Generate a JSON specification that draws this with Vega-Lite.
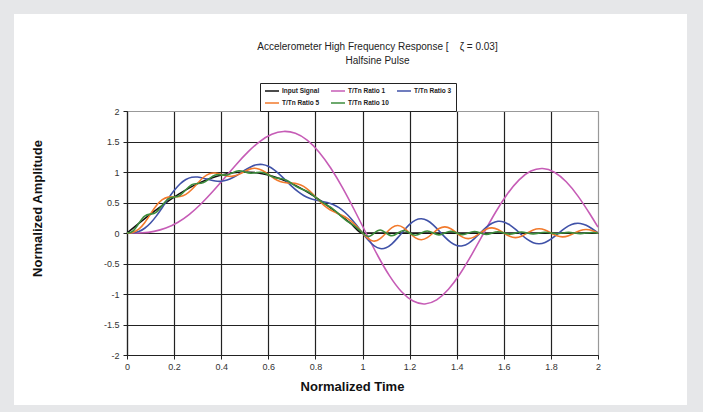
{
  "$schema": "https://vega.github.io/schema/vega-lite/v6.json",
  "width": 471,
  "height": 244,
  "autosize": {"type": "none"},
  "padding": {"left": 127, "top": 111, "right": 105, "bottom": 57},
  "background": "#ffffff",
  "config": {
    "font": "Liberation Sans",
    "view": {"stroke": "#999999", "strokeWidth": 1}
  },
  "title": {
    "text": ["Accelerometer High Frequency Response [\u00a0\u00a0\u00a0\u00a0ζ = 0.03]", "Halfsine Pulse"],
    "fontSize": 10,
    "fontWeight": "normal",
    "font": "Liberation Sans",
    "color": "#222222",
    "lineHeight": 14,
    "anchor": "middle",
    "dx": 15,
    "offset": -82
  },
  "data": {
    "values": [
      {"t":0,"v":0,"s":"Input Signal"},{"t":0.05,"v":0.156,"s":"Input Signal"},{"t":0.1,"v":0.309,"s":"Input Signal"},{"t":0.15,"v":0.454,"s":"Input Signal"},{"t":0.2,"v":0.588,"s":"Input Signal"},{"t":0.25,"v":0.707,"s":"Input Signal"},{"t":0.3,"v":0.809,"s":"Input Signal"},{"t":0.35,"v":0.891,"s":"Input Signal"},{"t":0.4,"v":0.951,"s":"Input Signal"},{"t":0.45,"v":0.988,"s":"Input Signal"},{"t":0.5,"v":1,"s":"Input Signal"},{"t":0.55,"v":0.988,"s":"Input Signal"},{"t":0.6,"v":0.951,"s":"Input Signal"},{"t":0.65,"v":0.891,"s":"Input Signal"},{"t":0.7,"v":0.809,"s":"Input Signal"},{"t":0.75,"v":0.707,"s":"Input Signal"},{"t":0.8,"v":0.588,"s":"Input Signal"},{"t":0.85,"v":0.454,"s":"Input Signal"},{"t":0.9,"v":0.309,"s":"Input Signal"},{"t":0.95,"v":0.156,"s":"Input Signal"},{"t":1,"v":0,"s":"Input Signal"},{"t":1.5,"v":0,"s":"Input Signal"},{"t":2,"v":0,"s":"Input Signal"},

      {"t":0,"v":0,"s":"T/Tn Ratio 1"},{"t":0.015,"v":0,"s":"T/Tn Ratio 1"},{"t":0.065,"v":0.004,"s":"T/Tn Ratio 1"},{"t":0.115,"v":0.027,"s":"T/Tn Ratio 1"},{"t":0.165,"v":0.081,"s":"T/Tn Ratio 1"},{"t":0.215,"v":0.173,"s":"T/Tn Ratio 1"},{"t":0.265,"v":0.307,"s":"T/Tn Ratio 1"},{"t":0.315,"v":0.48,"s":"T/Tn Ratio 1"},{"t":0.365,"v":0.683,"s":"T/Tn Ratio 1"},{"t":0.415,"v":0.905,"s":"T/Tn Ratio 1"},{"t":0.465,"v":1.128,"s":"T/Tn Ratio 1"},{"t":0.515,"v":1.333,"s":"T/Tn Ratio 1"},{"t":0.565,"v":1.503,"s":"T/Tn Ratio 1"},{"t":0.615,"v":1.618,"s":"T/Tn Ratio 1"},{"t":0.665,"v":1.665,"s":"T/Tn Ratio 1"},{"t":0.715,"v":1.634,"s":"T/Tn Ratio 1"},{"t":0.765,"v":1.522,"s":"T/Tn Ratio 1"},{"t":0.815,"v":1.329,"s":"T/Tn Ratio 1"},{"t":0.865,"v":1.065,"s":"T/Tn Ratio 1"},{"t":0.915,"v":0.743,"s":"T/Tn Ratio 1"},{"t":0.965,"v":0.381,"s":"T/Tn Ratio 1"},{"t":1.015,"v":0,"s":"T/Tn Ratio 1"},{"t":1.065,"v":-0.373,"s":"T/Tn Ratio 1"},{"t":1.115,"v":-0.703,"s":"T/Tn Ratio 1"},{"t":1.165,"v":-0.959,"s":"T/Tn Ratio 1"},{"t":1.215,"v":-1.116,"s":"T/Tn Ratio 1"},{"t":1.265,"v":-1.163,"s":"T/Tn Ratio 1"},{"t":1.315,"v":-1.096,"s":"T/Tn Ratio 1"},{"t":1.365,"v":-0.923,"s":"T/Tn Ratio 1"},{"t":1.415,"v":-0.664,"s":"T/Tn Ratio 1"},{"t":1.465,"v":-0.346,"s":"T/Tn Ratio 1"},{"t":1.515,"v":0,"s":"T/Tn Ratio 1"},{"t":1.565,"v":0.34,"s":"T/Tn Ratio 1"},{"t":1.615,"v":0.64,"s":"T/Tn Ratio 1"},{"t":1.665,"v":0.872,"s":"T/Tn Ratio 1"},{"t":1.715,"v":1.016,"s":"T/Tn Ratio 1"},{"t":1.765,"v":1.058,"s":"T/Tn Ratio 1"},{"t":1.815,"v":0.997,"s":"T/Tn Ratio 1"},{"t":1.865,"v":0.84,"s":"T/Tn Ratio 1"},{"t":1.915,"v":0.605,"s":"T/Tn Ratio 1"},{"t":1.965,"v":0.315,"s":"T/Tn Ratio 1"},{"t":2,"v":0.095,"s":"T/Tn Ratio 1"},

      {"t":0,"v":0,"s":"T/Tn Ratio 3"},{"t":0.025,"v":0.004,"s":"T/Tn Ratio 3"},{"t":0.05,"v":0.026,"s":"T/Tn Ratio 3"},{"t":0.075,"v":0.078,"s":"T/Tn Ratio 3"},{"t":0.1,"v":0.164,"s":"T/Tn Ratio 3"},{"t":0.125,"v":0.281,"s":"T/Tn Ratio 3"},{"t":0.15,"v":0.418,"s":"T/Tn Ratio 3"},{"t":0.175,"v":0.562,"s":"T/Tn Ratio 3"},{"t":0.2,"v":0.695,"s":"T/Tn Ratio 3"},{"t":0.225,"v":0.803,"s":"T/Tn Ratio 3"},{"t":0.25,"v":0.876,"s":"T/Tn Ratio 3"},{"t":0.275,"v":0.913,"s":"T/Tn Ratio 3"},{"t":0.3,"v":0.917,"s":"T/Tn Ratio 3"},{"t":0.325,"v":0.899,"s":"T/Tn Ratio 3"},{"t":0.35,"v":0.873,"s":"T/Tn Ratio 3"},{"t":0.375,"v":0.852,"s":"T/Tn Ratio 3"},{"t":0.4,"v":0.848,"s":"T/Tn Ratio 3"},{"t":0.425,"v":0.867,"s":"T/Tn Ratio 3"},{"t":0.45,"v":0.909,"s":"T/Tn Ratio 3"},{"t":0.475,"v":0.966,"s":"T/Tn Ratio 3"},{"t":0.5,"v":1.029,"s":"T/Tn Ratio 3"},{"t":0.525,"v":1.083,"s":"T/Tn Ratio 3"},{"t":0.55,"v":1.118,"s":"T/Tn Ratio 3"},{"t":0.575,"v":1.123,"s":"T/Tn Ratio 3"},{"t":0.6,"v":1.094,"s":"T/Tn Ratio 3"},{"t":0.625,"v":1.035,"s":"T/Tn Ratio 3"},{"t":0.65,"v":0.953,"s":"T/Tn Ratio 3"},{"t":0.675,"v":0.859,"s":"T/Tn Ratio 3"},{"t":0.7,"v":0.764,"s":"T/Tn Ratio 3"},{"t":0.725,"v":0.681,"s":"T/Tn Ratio 3"},{"t":0.75,"v":0.615,"s":"T/Tn Ratio 3"},{"t":0.775,"v":0.57,"s":"T/Tn Ratio 3"},{"t":0.8,"v":0.541,"s":"T/Tn Ratio 3"},{"t":0.825,"v":0.521,"s":"T/Tn Ratio 3"},{"t":0.85,"v":0.5,"s":"T/Tn Ratio 3"},{"t":0.875,"v":0.468,"s":"T/Tn Ratio 3"},{"t":0.9,"v":0.416,"s":"T/Tn Ratio 3"},{"t":0.925,"v":0.34,"s":"T/Tn Ratio 3"},{"t":0.95,"v":0.242,"s":"T/Tn Ratio 3"},{"t":0.975,"v":0.126,"s":"T/Tn Ratio 3"},{"t":1,"v":0,"s":"T/Tn Ratio 3"},{"t":1.025,"v":-0.12,"s":"T/Tn Ratio 3"},{"t":1.05,"v":-0.211,"s":"T/Tn Ratio 3"},{"t":1.075,"v":-0.255,"s":"T/Tn Ratio 3"},{"t":1.1,"v":-0.242,"s":"T/Tn Ratio 3"},{"t":1.125,"v":-0.177,"s":"T/Tn Ratio 3"},{"t":1.15,"v":-0.076,"s":"T/Tn Ratio 3"},{"t":1.175,"v":0.038,"s":"T/Tn Ratio 3"},{"t":1.2,"v":0.141,"s":"T/Tn Ratio 3"},{"t":1.225,"v":0.211,"s":"T/Tn Ratio 3"},{"t":1.25,"v":0.233,"s":"T/Tn Ratio 3"},{"t":1.275,"v":0.205,"s":"T/Tn Ratio 3"},{"t":1.3,"v":0.133,"s":"T/Tn Ratio 3"},{"t":1.325,"v":0.035,"s":"T/Tn Ratio 3"},{"t":1.35,"v":-0.068,"s":"T/Tn Ratio 3"},{"t":1.375,"v":-0.154,"s":"T/Tn Ratio 3"},{"t":1.4,"v":-0.204,"s":"T/Tn Ratio 3"},{"t":1.425,"v":-0.209,"s":"T/Tn Ratio 3"},{"t":1.45,"v":-0.169,"s":"T/Tn Ratio 3"},{"t":1.475,"v":-0.093,"s":"T/Tn Ratio 3"},{"t":1.5,"v":0,"s":"T/Tn Ratio 3"},{"t":1.525,"v":0.091,"s":"T/Tn Ratio 3"},{"t":1.55,"v":0.159,"s":"T/Tn Ratio 3"},{"t":1.575,"v":0.192,"s":"T/Tn Ratio 3"},{"t":1.6,"v":0.182,"s":"T/Tn Ratio 3"},{"t":1.625,"v":0.134,"s":"T/Tn Ratio 3"},{"t":1.65,"v":0.058,"s":"T/Tn Ratio 3"},{"t":1.675,"v":-0.029,"s":"T/Tn Ratio 3"},{"t":1.7,"v":-0.106,"s":"T/Tn Ratio 3"},{"t":1.725,"v":-0.159,"s":"T/Tn Ratio 3"},{"t":1.75,"v":-0.176,"s":"T/Tn Ratio 3"},{"t":1.775,"v":-0.155,"s":"T/Tn Ratio 3"},{"t":1.8,"v":-0.101,"s":"T/Tn Ratio 3"},{"t":1.825,"v":-0.026,"s":"T/Tn Ratio 3"},{"t":1.85,"v":0.051,"s":"T/Tn Ratio 3"},{"t":1.875,"v":0.116,"s":"T/Tn Ratio 3"},{"t":1.9,"v":0.154,"s":"T/Tn Ratio 3"},{"t":1.925,"v":0.157,"s":"T/Tn Ratio 3"},{"t":1.95,"v":0.127,"s":"T/Tn Ratio 3"},{"t":1.975,"v":0.07,"s":"T/Tn Ratio 3"},{"t":2,"v":0,"s":"T/Tn Ratio 3"},

      {"t":0,"v":0,"s":"T/Tn Ratio 5"},{"t":0.025,"v":0.01,"s":"T/Tn Ratio 5"},{"t":0.05,"v":0.062,"s":"T/Tn Ratio 5"},{"t":0.075,"v":0.169,"s":"T/Tn Ratio 5"},{"t":0.1,"v":0.312,"s":"T/Tn Ratio 5"},{"t":0.125,"v":0.45,"s":"T/Tn Ratio 5"},{"t":0.15,"v":0.546,"s":"T/Tn Ratio 5"},{"t":0.175,"v":0.588,"s":"T/Tn Ratio 5"},{"t":0.2,"v":0.594,"s":"T/Tn Ratio 5"},{"t":0.225,"v":0.598,"s":"T/Tn Ratio 5"},{"t":0.25,"v":0.634,"s":"T/Tn Ratio 5"},{"t":0.275,"v":0.713,"s":"T/Tn Ratio 5"},{"t":0.3,"v":0.817,"s":"T/Tn Ratio 5"},{"t":0.325,"v":0.914,"s":"T/Tn Ratio 5"},{"t":0.35,"v":0.973,"s":"T/Tn Ratio 5"},{"t":0.375,"v":0.983,"s":"T/Tn Ratio 5"},{"t":0.4,"v":0.961,"s":"T/Tn Ratio 5"},{"t":0.425,"v":0.934,"s":"T/Tn Ratio 5"},{"t":0.45,"v":0.932,"s":"T/Tn Ratio 5"},{"t":0.475,"v":0.961,"s":"T/Tn Ratio 5"},{"t":0.5,"v":1.01,"s":"T/Tn Ratio 5"},{"t":0.525,"v":1.051,"s":"T/Tn Ratio 5"},{"t":0.55,"v":1.058,"s":"T/Tn Ratio 5"},{"t":0.575,"v":1.024,"s":"T/Tn Ratio 5"},{"t":0.6,"v":0.961,"s":"T/Tn Ratio 5"},{"t":0.625,"v":0.894,"s":"T/Tn Ratio 5"},{"t":0.65,"v":0.845,"s":"T/Tn Ratio 5"},{"t":0.675,"v":0.823,"s":"T/Tn Ratio 5"},{"t":0.7,"v":0.817,"s":"T/Tn Ratio 5"},{"t":0.725,"v":0.804,"s":"T/Tn Ratio 5"},{"t":0.75,"v":0.764,"s":"T/Tn Ratio 5"},{"t":0.775,"v":0.69,"s":"T/Tn Ratio 5"},{"t":0.8,"v":0.594,"s":"T/Tn Ratio 5"},{"t":0.825,"v":0.495,"s":"T/Tn Ratio 5"},{"t":0.85,"v":0.413,"s":"T/Tn Ratio 5"},{"t":0.875,"v":0.355,"s":"T/Tn Ratio 5"},{"t":0.9,"v":0.312,"s":"T/Tn Ratio 5"},{"t":0.925,"v":0.266,"s":"T/Tn Ratio 5"},{"t":0.95,"v":0.199,"s":"T/Tn Ratio 5"},{"t":0.975,"v":0.108,"s":"T/Tn Ratio 5"},{"t":1,"v":0,"s":"T/Tn Ratio 5"},{"t":1.025,"v":-0.097,"s":"T/Tn Ratio 5"},{"t":1.05,"v":-0.134,"s":"T/Tn Ratio 5"},{"t":1.075,"v":-0.093,"s":"T/Tn Ratio 5"},{"t":1.1,"v":0,"s":"T/Tn Ratio 5"},{"t":1.125,"v":0.088,"s":"T/Tn Ratio 5"},{"t":1.15,"v":0.122,"s":"T/Tn Ratio 5"},{"t":1.175,"v":0.084,"s":"T/Tn Ratio 5"},{"t":1.2,"v":0,"s":"T/Tn Ratio 5"},{"t":1.225,"v":-0.08,"s":"T/Tn Ratio 5"},{"t":1.25,"v":-0.111,"s":"T/Tn Ratio 5"},{"t":1.275,"v":-0.077,"s":"T/Tn Ratio 5"},{"t":1.3,"v":0,"s":"T/Tn Ratio 5"},{"t":1.325,"v":0.073,"s":"T/Tn Ratio 5"},{"t":1.35,"v":0.101,"s":"T/Tn Ratio 5"},{"t":1.375,"v":0.07,"s":"T/Tn Ratio 5"},{"t":1.4,"v":0,"s":"T/Tn Ratio 5"},{"t":1.425,"v":-0.067,"s":"T/Tn Ratio 5"},{"t":1.45,"v":-0.092,"s":"T/Tn Ratio 5"},{"t":1.475,"v":-0.063,"s":"T/Tn Ratio 5"},{"t":1.5,"v":0,"s":"T/Tn Ratio 5"},{"t":1.525,"v":0.061,"s":"T/Tn Ratio 5"},{"t":1.55,"v":0.084,"s":"T/Tn Ratio 5"},{"t":1.575,"v":0.058,"s":"T/Tn Ratio 5"},{"t":1.6,"v":0,"s":"T/Tn Ratio 5"},{"t":1.625,"v":-0.055,"s":"T/Tn Ratio 5"},{"t":1.65,"v":-0.076,"s":"T/Tn Ratio 5"},{"t":1.675,"v":-0.053,"s":"T/Tn Ratio 5"},{"t":1.7,"v":0,"s":"T/Tn Ratio 5"},{"t":1.725,"v":0.05,"s":"T/Tn Ratio 5"},{"t":1.75,"v":0.069,"s":"T/Tn Ratio 5"},{"t":1.775,"v":0.048,"s":"T/Tn Ratio 5"},{"t":1.8,"v":0,"s":"T/Tn Ratio 5"},{"t":1.825,"v":-0.046,"s":"T/Tn Ratio 5"},{"t":1.85,"v":-0.063,"s":"T/Tn Ratio 5"},{"t":1.875,"v":-0.044,"s":"T/Tn Ratio 5"},{"t":1.9,"v":0,"s":"T/Tn Ratio 5"},{"t":1.925,"v":0.042,"s":"T/Tn Ratio 5"},{"t":1.95,"v":0.057,"s":"T/Tn Ratio 5"},{"t":1.975,"v":0.04,"s":"T/Tn Ratio 5"},{"t":2,"v":0,"s":"T/Tn Ratio 5"},

      {"t":0,"v":0,"s":"T/Tn Ratio 10"},{"t":0.025,"v":0.031,"s":"T/Tn Ratio 10"},{"t":0.05,"v":0.157,"s":"T/Tn Ratio 10"},{"t":0.075,"v":0.278,"s":"T/Tn Ratio 10"},{"t":0.1,"v":0.31,"s":"T/Tn Ratio 10"},{"t":0.125,"v":0.344,"s":"T/Tn Ratio 10"},{"t":0.15,"v":0.455,"s":"T/Tn Ratio 10"},{"t":0.175,"v":0.56,"s":"T/Tn Ratio 10"},{"t":0.2,"v":0.589,"s":"T/Tn Ratio 10"},{"t":0.225,"v":0.618,"s":"T/Tn Ratio 10"},{"t":0.25,"v":0.709,"s":"T/Tn Ratio 10"},{"t":0.275,"v":0.792,"s":"T/Tn Ratio 10"},{"t":0.3,"v":0.811,"s":"T/Tn Ratio 10"},{"t":0.325,"v":0.828,"s":"T/Tn Ratio 10"},{"t":0.35,"v":0.893,"s":"T/Tn Ratio 10"},{"t":0.375,"v":0.951,"s":"T/Tn Ratio 10"},{"t":0.4,"v":0.954,"s":"T/Tn Ratio 10"},{"t":0.425,"v":0.952,"s":"T/Tn Ratio 10"},{"t":0.45,"v":0.99,"s":"T/Tn Ratio 10"},{"t":0.475,"v":1.02,"s":"T/Tn Ratio 10"},{"t":0.5,"v":1.003,"s":"T/Tn Ratio 10"},{"t":0.525,"v":0.981,"s":"T/Tn Ratio 10"},{"t":0.55,"v":0.99,"s":"T/Tn Ratio 10"},{"t":0.575,"v":0.992,"s":"T/Tn Ratio 10"},{"t":0.6,"v":0.954,"s":"T/Tn Ratio 10"},{"t":0.625,"v":0.911,"s":"T/Tn Ratio 10"},{"t":0.65,"v":0.893,"s":"T/Tn Ratio 10"},{"t":0.675,"v":0.869,"s":"T/Tn Ratio 10"},{"t":0.7,"v":0.811,"s":"T/Tn Ratio 10"},{"t":0.725,"v":0.75,"s":"T/Tn Ratio 10"},{"t":0.75,"v":0.709,"s":"T/Tn Ratio 10"},{"t":0.775,"v":0.663,"s":"T/Tn Ratio 10"},{"t":0.8,"v":0.589,"s":"T/Tn Ratio 10"},{"t":0.825,"v":0.513,"s":"T/Tn Ratio 10"},{"t":0.85,"v":0.455,"s":"T/Tn Ratio 10"},{"t":0.875,"v":0.393,"s":"T/Tn Ratio 10"},{"t":0.9,"v":0.31,"s":"T/Tn Ratio 10"},{"t":0.925,"v":0.225,"s":"T/Tn Ratio 10"},{"t":0.95,"v":0.157,"s":"T/Tn Ratio 10"},{"t":0.975,"v":0.087,"s":"T/Tn Ratio 10"},{"t":1,"v":0,"s":"T/Tn Ratio 10"},{"t":1.025,"v":-0.055,"s":"T/Tn Ratio 10"},{"t":1.05,"v":0,"s":"T/Tn Ratio 10"},{"t":1.075,"v":0.05,"s":"T/Tn Ratio 10"},{"t":1.1,"v":0,"s":"T/Tn Ratio 10"},{"t":1.125,"v":-0.046,"s":"T/Tn Ratio 10"},{"t":1.15,"v":0,"s":"T/Tn Ratio 10"},{"t":1.175,"v":0.042,"s":"T/Tn Ratio 10"},{"t":1.2,"v":0,"s":"T/Tn Ratio 10"},{"t":1.225,"v":-0.038,"s":"T/Tn Ratio 10"},{"t":1.25,"v":0,"s":"T/Tn Ratio 10"},{"t":1.275,"v":0.034,"s":"T/Tn Ratio 10"},{"t":1.3,"v":0,"s":"T/Tn Ratio 10"},{"t":1.325,"v":-0.031,"s":"T/Tn Ratio 10"},{"t":1.35,"v":0,"s":"T/Tn Ratio 10"},{"t":1.375,"v":0.029,"s":"T/Tn Ratio 10"},{"t":1.4,"v":0,"s":"T/Tn Ratio 10"},{"t":1.425,"v":-0.026,"s":"T/Tn Ratio 10"},{"t":1.45,"v":0,"s":"T/Tn Ratio 10"},{"t":1.475,"v":0.024,"s":"T/Tn Ratio 10"},{"t":1.5,"v":0,"s":"T/Tn Ratio 10"},{"t":1.525,"v":-0.022,"s":"T/Tn Ratio 10"},{"t":1.55,"v":0,"s":"T/Tn Ratio 10"},{"t":1.575,"v":0.02,"s":"T/Tn Ratio 10"},{"t":1.6,"v":0,"s":"T/Tn Ratio 10"},{"t":1.625,"v":-0.018,"s":"T/Tn Ratio 10"},{"t":1.65,"v":0,"s":"T/Tn Ratio 10"},{"t":1.675,"v":0.016,"s":"T/Tn Ratio 10"},{"t":1.7,"v":0,"s":"T/Tn Ratio 10"},{"t":1.725,"v":-0.015,"s":"T/Tn Ratio 10"},{"t":1.75,"v":0,"s":"T/Tn Ratio 10"},{"t":1.775,"v":0.013,"s":"T/Tn Ratio 10"},{"t":1.8,"v":0,"s":"T/Tn Ratio 10"},{"t":1.825,"v":-0.012,"s":"T/Tn Ratio 10"},{"t":1.85,"v":0,"s":"T/Tn Ratio 10"},{"t":1.875,"v":0.011,"s":"T/Tn Ratio 10"},{"t":1.9,"v":0,"s":"T/Tn Ratio 10"},{"t":1.925,"v":-0.01,"s":"T/Tn Ratio 10"},{"t":1.95,"v":0,"s":"T/Tn Ratio 10"},{"t":1.975,"v":0.009,"s":"T/Tn Ratio 10"},{"t":2,"v":0,"s":"T/Tn Ratio 10"}
    ]
  },
  "encoding": {
    "x": {
      "field": "t",
      "type": "quantitative",
      "scale": {"domain": [0, 2], "nice": false, "zero": false},
      "axis": {
        "values": [0, 0.2, 0.4, 0.6, 0.8, 1, 1.2, 1.4, 1.6, 1.8, 2],
        "labelExpr": "datum.value + ''",
        "grid": true,
        "gridColor": {"condition": {"test": "datum.value === 2", "value": "#999999"}, "value": "#222222"},
        "gridWidth": 1.2,
        "domainColor": "#222222",
        "domainWidth": 1.2,
        "tickColor": "#222222",
        "tickSize": 4,
        "labelFontSize": 9,
        "labelColor": "#333333",
        "labelPadding": 3,
        "labelFlush": false,
        "title": "Normalized Time",
        "titleFont": "Liberation Sans",
        "titleFontSize": 13,
        "titleFontWeight": "bold",
        "titleColor": "#111111",
        "titlePadding": 9,
        "titleX": 225
      }
    },
    "y": {
      "field": "v",
      "type": "quantitative",
      "scale": {"domain": [-2, 2], "nice": false, "zero": false},
      "axis": {
        "values": [-2, -1.5, -1, -0.5, 0, 0.5, 1, 1.5, 2],
        "labelExpr": "datum.value + ''",
        "grid": true,
        "gridColor": {"condition": {"test": "datum.value === 2", "value": "#999999"}, "value": "#222222"},
        "gridWidth": 1.2,
        "domainColor": "#222222",
        "domainWidth": 1.2,
        "tickColor": "#222222",
        "tickSize": 4,
        "labelFontSize": 9,
        "labelColor": "#333333",
        "labelPadding": 4,
        "labelFlush": false,
        "title": "Normalized Amplitude",
        "titleFont": "Liberation Sans",
        "titleFontSize": 13,
        "titleFontWeight": "bold",
        "titleColor": "#111111",
        "titlePadding": 59,
        "titleY": 97
      }
    },
    "color": {
      "field": "s",
      "type": "nominal",
      "scale": {
        "domain": ["Input Signal", "T/Tn Ratio 1", "T/Tn Ratio 3", "T/Tn Ratio 5", "T/Tn Ratio 10"],
        "range": ["#111111", "#c65cb6", "#4052a8", "#f27a2c", "#3c8c3c"]
      },
      "legend": {
        "orient": "none",
        "legendX": 133,
        "legendY": -28,
        "title": null,
        "columns": 3,
        "direction": "horizontal",
        "symbolType": "stroke",
        "symbolSize": 196,
        "symbolStrokeWidth": 1.5,
        "labelFont": "Liberation Sans",
        "labelFontSize": 6.5,
        "labelFontWeight": "bold",
        "labelColor": "#222222",
        "labelOffset": 2,
        "columnPadding": 7,
        "rowPadding": 4,
        "clipHeight": 8,
        "padding": 4,
        "strokeColor": "#222222",
        "fillColor": "#ffffff",
        "gridAlign": "all"
      }
    }
  },
  "layer": [
    {
      "mark": {"type": "rect", "filled": false, "strokeWidth": 30},
      "encoding": {
        "x": {"datum": -0.5435},
        "x2": {"datum": 2.4416},
        "y": {"datum": 3.836},
        "y2": {"datum": -3.066},
        "color": {"value": "#e6e7e9"}
      }
    },
    {
      "transform": [{"filter": "datum.s === 'Input Signal'"}],
      "mark": {"type": "line", "interpolate": "monotone", "strokeWidth": 1.6}
    },
    {
      "transform": [{"filter": "datum.s !== 'Input Signal'"}],
      "mark": {"type": "line", "interpolate": "natural", "strokeWidth": 1.6}
    }
  ]
}
